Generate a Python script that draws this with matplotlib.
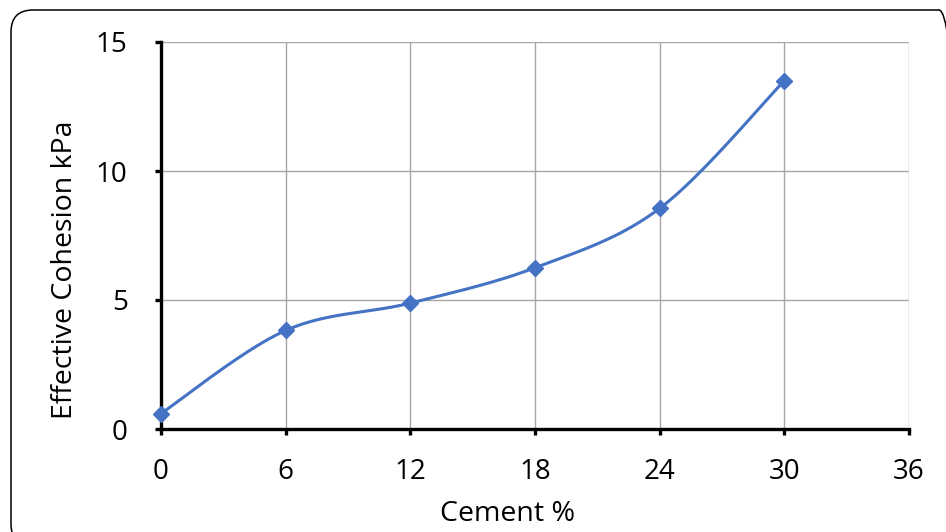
import matplotlib.pyplot as plt
import numpy as np
from matplotlib.patches import FancyBboxPatch
from matplotlib.transforms import IdentityTransform

# data
cement = [0, 6, 12, 18, 24, 30]
cohesion = [0.6, 3.82, 4.88, 6.25, 8.55, 13.5]
xticks = [0, 6, 12, 18, 24, 30, 36]
yticks = [0, 5, 10, 15]


def smooth(x, y, n=40):
    """Catmull-Rom style smoothing like the spreadsheet 'smoothed line'"""
    x = np.asarray(x, float)
    y = np.asarray(y, float)
    px = np.concatenate([[x[0]], x, [x[-1]]])
    py = np.concatenate([[y[0]], y, [y[-1]]])
    xs, ys = [], []
    for i in range(1, len(px) - 2):
        p0, p1, p2, p3 = [np.array([px[j], py[j]]) for j in (i - 1, i, i + 1, i + 2)]
        c1 = p1 + (p2 - p0) / 6
        c2 = p2 - (p3 - p1) / 6
        t = np.linspace(0, 1, n)[:, None]
        pts = (1 - t) ** 3 * p1 + 3 * (1 - t) ** 2 * t * c1 + 3 * (1 - t) * t ** 2 * c2 + t ** 3 * p2
        xs.extend(pts[:, 0])
        ys.extend(pts[:, 1])
    return xs, ys


plt.rcParams['font.family'] = ['Open Sans', 'DejaVu Sans']

fig = plt.figure(figsize=(9.46, 5.32), dpi=100)
ax = fig.add_axes([161 / 946, 1 - 429 / 532, (909 - 161) / 946, (429 - 42) / 532])

sx, sy = smooth(cement, cohesion)
ax.plot(sx, sy, color='#4472C4', lw=2.2, zorder=3)
ax.plot(cement, cohesion, 'D', color='#4472C4', ms=8, zorder=4, clip_on=False)

ax.set_xlim(0, 36)
ax.set_ylim(0, 15)
ax.set_xticks(xticks)
ax.set_yticks(yticks)
ax.grid(True, color='#A6A6A6', lw=1)
ax.set_axisbelow(True)
for s in ['top', 'right']:
    ax.spines[s].set_visible(False)
for s in ['left', 'bottom']:
    ax.spines[s].set_linewidth(2.4)
    ax.spines[s].set_color('black')
ax.tick_params(axis='both', direction='out', length=4, width=2.4, labelsize=20)
ax.tick_params(axis='y', pad=20)
ax.tick_params(axis='x', pad=17)
ax.set_xlabel('Cement %', fontsize=20.5, va='center')
ax.set_ylabel('Effective Cohesion kPa', fontsize=20.5, va='center')
ax.xaxis.set_label_coords((507 - 161) / 748, (429 - 514) / 387)
ax.yaxis.set_label_coords((65 - 161) / 748, (429 - 270) / 387)

# rounded chart-area border, partly off the right/bottom edges
border = FancyBboxPatch((11, -14), 950, 532 - 10 + 14, boxstyle='round,pad=0,rounding_size=22',
                        transform=IdentityTransform(), fill=False, ec='black', lw=1.1)
fig.patches.append(border)

fig.savefig('out.png', dpi=100)
